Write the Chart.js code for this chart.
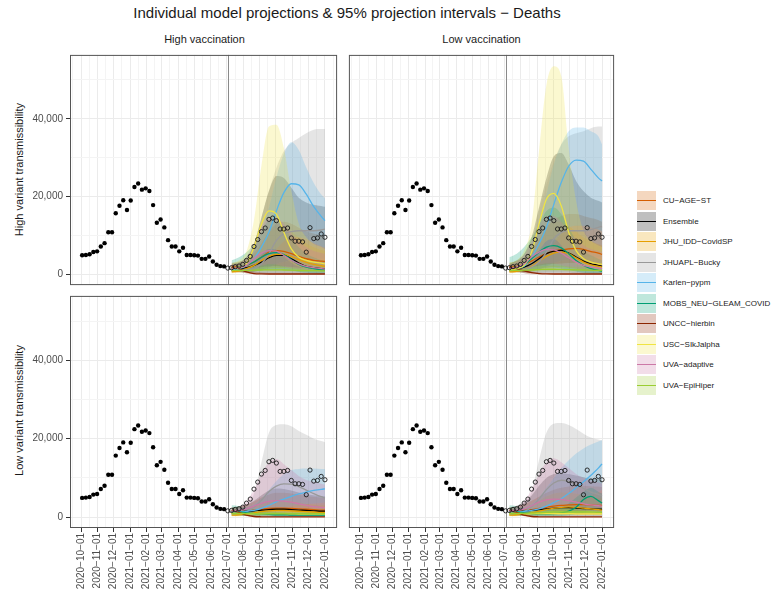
<!DOCTYPE html>
<html>
<head>
<meta charset="utf-8">
<script src="https://cdn.jsdelivr.net/npm/chart.js@4.4.1/dist/chart.umd.min.js"></script>
<style>
  body { margin: 0; background: #fff; font-family: "Liberation Sans", Arial, sans-serif; }
  #wrap { position: relative; width: 772px; height: 601px; overflow: hidden; }
  canvas { position: absolute; }
  .txt { position: absolute; white-space: nowrap; color: #1a1a1a; }
  .key { position: absolute; width: 19px; height: 19px; }
  .key i { position: absolute; left: 0; right: 0; top: 9px; height: 1.4px; }
</style>
</head>
<body>
<div id="wrap">
  <div class="txt" style="left:0;width:694px;top:5px;font-size:15px;line-height:15px;text-align:center">Individual model projections &amp; 95% projection intervals &#8722; Deaths</div>
  <div class="txt" style="left:70px;width:269px;top:34px;font-size:11px;line-height:11px;text-align:center">High vaccination</div>
  <div class="txt" style="left:347px;width:269px;top:34px;font-size:11px;line-height:11px;text-align:center">Low vaccination</div>
  <div class="txt" style="left:-98px;width:234px;top:164px;height:11px;font-size:11px;line-height:11px;text-align:center;transform:rotate(-90deg)">High variant transmissibility</div>
  <div class="txt" style="left:-98px;width:234px;top:405px;height:11px;font-size:11px;line-height:11px;text-align:center;transform:rotate(-90deg)">Low variant transmissibility</div>
  <canvas id="c-tl" width="342" height="240" style="left:0;top:50px"></canvas>
  <canvas id="c-tr" width="275" height="240" style="left:344px;top:50px"></canvas>
  <canvas id="c-bl" width="342" height="310" style="left:0;top:291px"></canvas>
  <canvas id="c-br" width="275" height="310" style="left:344px;top:291px"></canvas>
  <div id="legend"></div>
</div>
<script>
// ---- data -------------------------------------------------------------
const MODELS = ['CU-AGE-ST', 'Ensemble', 'JHU_IDD-CovidSP', 'JHUAPL-Bucky', 'Karlen-pypm',
  'MOBS_NEU-GLEAM_COVID', 'UNCC-hierbin', 'USC-SIkJalpha', 'UVA-adaptive', 'UVA-EpiHiper'];
const MODEL_COLORS = ['#D55E00', '#000000', '#E69F00', '#999999', '#56B4E9',
  '#009E73', '#8B2500', '#F0E442', '#CC79A7', '#9ACD32'];

const X_TICKS = ['2020-10-01', '2020-11-01', '2020-12-01', '2021-01-01', '2021-02-01', '2021-03-01',
  '2021-04-01', '2021-05-01', '2021-06-01', '2021-07-01', '2021-08-01', '2021-09-01',
  '2021-10-01', '2021-11-01', '2021-12-01', '2022-01-01'];
const Y_TICKS = [0, 20000, 40000];
const Y_MINOR = [10000, 30000, 50000];
const Y_MIN = -2780, Y_MAX = 56450;

// weekly observed deaths, from OBS_START; points on/after SPLIT_DATE drawn hollow
const OBS_START = '2020-10-03';
const SPLIT_DATE = '2021-07-03';
const OBS_DEATHS = [4900, 4980, 5150, 5740, 5910, 7170, 8020, 10800, 10800, 15700, 17640, 19070, 16540,
  18990, 22450, 23380, 21780, 22110, 21440, 17810, 13250, 14100, 12070, 8780, 7170, 7170, 5910, 6840,
  4980, 4980, 4900, 4810, 3970, 3970, 4560, 3290, 2450, 2110, 2030,
  1600, 1700, 1960, 2130, 2550, 3570, 4600, 7150, 8940, 10980, 11910, 14130, 14470, 13790, 11660,
  11660, 11910, 9360, 8510, 8510, 8340, 5700, 12000, 9190, 9360, 10380, 9530];

const PROJ_DATES = ['2021-07-10', '2021-07-24', '2021-08-07', '2021-08-21', '2021-09-04', '2021-09-18',
  '2021-10-02', '2021-10-16', '2021-10-30', '2021-11-13', '2021-11-27', '2021-12-11', '2021-12-25', '2022-01-01'];

// rows follow MODELS order
// High vaccination / high variant
const HH_MED = [
  [1900, 1900, 2300, 3150, 4400, 5700, 6100, 5900, 5300, 4600, 4000, 3600, 3400, 3300],
  [1450, 1450, 1700, 2300, 3150, 4250, 4850, 4850, 4000, 2900, 2050, 1700, 1450, 1350],
  [600, 850, 1450, 2300, 3550, 4600, 5100, 5100, 4600, 3750, 3050, 2550, 2200, 2050],
  [1000, 1000, 1200, 1450, 2700, 5300, 8700, 10500, 11000, 11200, 11200, 11200, 11400, 11600],
  [1200, 1450, 2300, 4000, 7000, 10800, 16300, 21000, 23300, 23000, 20600, 17400, 14900, 13800],
  [1700, 1850, 2300, 3150, 4400, 5300, 5600, 5100, 3750, 2550, 1850, 1450, 1200, 1100],
  [1850, 1450, 600, 170, 90, 80, 80, 80, 80, 80, 80, 80, 80, 80],
  [1450, 1700, 2700, 7000, 12900, 16300, 15500, 10800, 6550, 4400, 3600, 3150, 2900, 2700],
  [1450, 1700, 2300, 4000, 5450, 6100, 5950, 4850, 3600, 2700, 2050, 1700, 1450, 1350],
  [1000, 1000, 1000, 1050, 1100, 1150, 1150, 1100, 1050, 1000, 950, 950, 900, 900]];
const HH_LO = [
  [1200, 1200, 1300, 1500, 1800, 2000, 2100, 2000, 1900, 1700, 1600, 1500, 1400, 1400],
  [600, 500, 400, 300, 300, 300, 300, 300, 300, 200, 200, 200, 200, 200],
  [300, 400, 600, 900, 1200, 1500, 1600, 1600, 1400, 1200, 1000, 900, 800, 800],
  [600, 600, 600, 800, 1200, 1800, 2600, 3200, 3600, 3800, 3900, 4000, 4000, 4000],
  [600, 800, 1100, 1800, 3000, 4500, 6500, 8500, 9500, 9500, 9000, 8000, 7200, 6800],
  [800, 700, 700, 800, 1000, 1200, 1300, 1200, 900, 600, 400, 300, 200, 200],
  [1300, 800, 200, 0, 0, 0, 0, 0, 0, 0, 0, 0, 0, 0],
  [1000, 1200, 1600, 3000, 5000, 6500, 6300, 4500, 3000, 2000, 1600, 1300, 1200, 1100],
  [1000, 1100, 1300, 1800, 2300, 2600, 2500, 2100, 1600, 1300, 1100, 1000, 900, 900],
  [600, 600, 600, 650, 700, 700, 700, 700, 650, 600, 600, 550, 550, 550]];
const HH_HI = [
  [3000, 3300, 4000, 5500, 8000, 11000, 13000, 13500, 13000, 12000, 11000, 10500, 10000, 9800],
  [2700, 3100, 4400, 7800, 14600, 21400, 25300, 24800, 22300, 19700, 18500, 17900, 17600, 17400],
  [1500, 2000, 3000, 5000, 8000, 10500, 12000, 12000, 11000, 9500, 8000, 7000, 6300, 6000],
  [1900, 2300, 3600, 7800, 14600, 21400, 27400, 31700, 33800, 35100, 36300, 37200, 37400, 37400],
  [2000, 2300, 3000, 6000, 11000, 17200, 25000, 31000, 34000, 32000, 27500, 23500, 20500, 19500],
  [3600, 4400, 5700, 7800, 11200, 13800, 13800, 12100, 9500, 7000, 5300, 4400, 3700, 3600],
  [2500, 2300, 1500, 800, 500, 400, 400, 400, 400, 400, 400, 400, 400, 400],
  [2700, 3600, 6000, 14000, 28000, 38000, 38500, 32500, 21400, 13000, 9500, 7800, 7000, 6500],
  [2500, 3000, 4500, 8000, 12000, 14500, 14500, 13000, 10500, 8500, 7000, 6000, 5500, 5300],
  [1500, 1500, 1600, 1700, 1900, 2000, 2000, 1900, 1800, 1700, 1600, 1500, 1500, 1500]];

// Low vaccination / high variant
const LH_MED = [
  [1850, 2050, 2550, 3400, 4450, 5300, 5950, 6300, 6550, 6650, 6400, 5850, 5450, 5100],
  [1450, 1450, 1850, 2700, 4000, 5300, 5950, 6150, 5450, 4450, 3400, 2700, 2300, 2050],
  [600, 750, 1200, 2050, 3400, 4600, 5450, 5700, 5300, 4250, 3150, 2450, 2050, 1850],
  [1000, 1000, 1200, 1850, 3150, 5700, 9100, 10800, 11200, 11200, 11200, 11500, 12100, 12300],
  [1200, 1450, 2050, 4450, 7800, 12100, 18000, 23600, 27800, 29400, 29100, 27000, 24800, 24000],
  [1700, 1850, 2550, 4000, 5700, 7000, 7400, 6800, 5300, 3550, 2300, 1450, 1000, 850],
  [1850, 1450, 850, 430, 170, 90, 80, 80, 80, 80, 80, 80, 80, 80],
  [1000, 1450, 2300, 5700, 12900, 19300, 20800, 17600, 10800, 6100, 4000, 3150, 2700, 2550],
  [1450, 1850, 2700, 4450, 5700, 6400, 6300, 5450, 4250, 3150, 2300, 1850, 1600, 1450],
  [1000, 1000, 1050, 1100, 1200, 1300, 1300, 1250, 1200, 1150, 1100, 1050, 1000, 1000]];
const LH_LO = [
  [1200, 1300, 1500, 1800, 2200, 2500, 2700, 2800, 2900, 2900, 2800, 2700, 2600, 2500],
  [600, 500, 400, 400, 400, 400, 400, 400, 400, 300, 300, 300, 300, 300],
  [300, 400, 600, 900, 1300, 1700, 1900, 1900, 1700, 1400, 1100, 1000, 900, 900],
  [600, 600, 600, 800, 1300, 2000, 2900, 3500, 3900, 4100, 4200, 4300, 4400, 4400],
  [600, 800, 1100, 2000, 3500, 5500, 8000, 10500, 12000, 12500, 12500, 12000, 11500, 11000],
  [800, 700, 800, 1000, 1300, 1600, 1700, 1500, 1100, 700, 400, 300, 200, 200],
  [1300, 800, 300, 0, 0, 0, 0, 0, 0, 0, 0, 0, 0, 0],
  [700, 1000, 1500, 3000, 6000, 8500, 9000, 7500, 4500, 2800, 2000, 1600, 1400, 1300],
  [1000, 1200, 1500, 2000, 2500, 2800, 2800, 2400, 1900, 1500, 1200, 1000, 900, 900],
  [600, 600, 650, 700, 750, 800, 800, 800, 750, 700, 700, 650, 600, 600]];
const LH_HI = [
  [3000, 3400, 4300, 6000, 9000, 12000, 14000, 15000, 15500, 15500, 15000, 14500, 14000, 13500],
  [2700, 3600, 5300, 9500, 17200, 24800, 30400, 31200, 28300, 24000, 21400, 19700, 18900, 18500],
  [1500, 2000, 3200, 5500, 9000, 12000, 13500, 13500, 12500, 11000, 9500, 8500, 7800, 7500],
  [1900, 2300, 3600, 7800, 16300, 23100, 29100, 33400, 35500, 36300, 36800, 37600, 38000, 38000],
  [2000, 2300, 3200, 7000, 13000, 20600, 28300, 33400, 36800, 37800, 37800, 36800, 35500, 33400],
  [4400, 5300, 7000, 9500, 12900, 16300, 17200, 15500, 12100, 8700, 6100, 4900, 4000, 3600],
  [2500, 2300, 1500, 800, 500, 400, 400, 400, 400, 400, 400, 400, 400, 400],
  [3000, 3600, 6100, 12900, 31700, 48700, 53500, 51000, 32500, 18900, 11200, 8700, 7400, 7000],
  [2500, 3200, 5000, 8500, 12500, 15000, 15000, 13500, 11000, 9000, 7500, 6500, 6000, 5800],
  [1500, 1500, 1700, 1900, 2100, 2200, 2200, 2100, 2000, 1900, 1800, 1700, 1600, 1600]];

// High vaccination / low variant
const HL_MED = [
  [1500, 1500, 1600, 1800, 2000, 2200, 2300, 2300, 2200, 2100, 2000, 1900, 1800, 1800],
  [1400, 1400, 1500, 1600, 1800, 1900, 2000, 2000, 1900, 1800, 1700, 1600, 1500, 1500],
  [500, 600, 800, 1100, 1400, 1600, 1700, 1700, 1600, 1500, 1400, 1300, 1200, 1200],
  [900, 1000, 1400, 2500, 4300, 6500, 7900, 8500, 8400, 7800, 6900, 6000, 5200, 4900],
  [1300, 1400, 1500, 1700, 2200, 3000, 3900, 4600, 5300, 5900, 6400, 6800, 7100, 7200],
  [1400, 1300, 1100, 900, 800, 700, 600, 600, 500, 500, 500, 500, 500, 500],
  [1700, 1200, 500, 150, 80, 60, 50, 50, 50, 50, 50, 50, 50, 50],
  [1000, 950, 900, 900, 900, 900, 900, 900, 900, 850, 850, 800, 800, 800],
  [1500, 1700, 2100, 2800, 3500, 4000, 4200, 4100, 3800, 3400, 3000, 2700, 2500, 2400],
  [900, 900, 900, 900, 900, 900, 900, 900, 900, 900, 900, 900, 900, 900]];
const HL_LO = [
  [800, 800, 850, 900, 1000, 1100, 1100, 1100, 1100, 1000, 1000, 900, 900, 900],
  [500, 400, 300, 300, 300, 300, 300, 300, 300, 300, 300, 300, 300, 300],
  [200, 250, 300, 400, 500, 600, 650, 650, 600, 550, 500, 500, 450, 450],
  [400, 400, 500, 700, 1000, 1400, 1800, 2000, 2000, 1900, 1800, 1700, 1600, 1500],
  [800, 800, 900, 1000, 1200, 1600, 2000, 2400, 2800, 3100, 3300, 3500, 3600, 3700],
  [600, 500, 400, 300, 200, 200, 100, 100, 100, 100, 100, 100, 100, 100],
  [1200, 700, 200, 0, 0, 0, 0, 0, 0, 0, 0, 0, 0, 0],
  [600, 550, 500, 500, 500, 500, 500, 500, 500, 500, 450, 450, 450, 450],
  [1000, 1100, 1300, 1600, 2000, 2200, 2300, 2200, 2000, 1800, 1600, 1500, 1400, 1300],
  [500, 500, 500, 500, 500, 500, 500, 500, 500, 500, 500, 500, 500, 500]];
const HL_HI = [
  [2500, 2700, 3200, 4000, 5000, 5800, 6200, 6200, 6000, 5700, 5400, 5200, 5000, 4900],
  [2500, 2700, 3200, 4200, 5600, 6800, 7300, 7200, 6800, 6300, 5900, 5600, 5400, 5300],
  [1000, 1300, 1900, 2700, 3500, 4000, 4200, 4200, 4000, 3700, 3400, 3200, 3000, 3000],
  [1500, 1800, 3000, 6000, 14000, 21500, 23500, 23700, 23200, 22000, 21000, 20000, 19400, 19100],
  [1800, 2000, 2400, 3200, 4800, 7000, 9200, 11000, 12000, 12300, 12400, 12400, 12300, 12300],
  [3000, 2800, 2400, 2000, 1700, 1500, 1300, 1200, 1100, 1000, 1000, 1000, 1000, 1000],
  [2300, 1800, 900, 400, 300, 300, 300, 300, 300, 300, 300, 300, 300, 300],
  [1500, 1500, 1500, 1500, 1600, 1600, 1600, 1600, 1600, 1500, 1500, 1500, 1400, 1400],
  [1800, 2500, 4000, 7000, 11000, 14000, 14800, 13500, 12000, 10500, 9500, 9000, 8500, 8300],
  [1400, 1400, 1400, 1400, 1400, 1400, 1400, 1400, 1400, 1400, 1400, 1400, 1400, 1400]];

// Low vaccination / low variant
const LL_MED = [
  [1500, 1600, 1700, 1900, 2200, 2500, 2800, 3000, 3100, 3200, 3200, 3100, 3000, 3000],
  [1400, 1400, 1500, 1700, 1900, 2100, 2300, 2400, 2400, 2300, 2200, 2100, 2000, 2000],
  [500, 600, 800, 1100, 1500, 1900, 2300, 2500, 2600, 2500, 2300, 2100, 1900, 1800],
  [900, 1000, 1400, 2600, 4600, 7000, 8700, 9400, 9100, 8300, 7300, 6400, 5800, 5500],
  [1300, 1400, 1500, 1700, 2100, 2800, 3700, 4700, 6000, 7500, 9000, 10700, 12500, 13600],
  [1400, 1300, 1100, 900, 800, 800, 900, 1100, 1500, 2500, 4500, 5300, 4200, 3600],
  [1700, 1200, 500, 150, 80, 60, 50, 50, 50, 50, 50, 50, 50, 50],
  [1000, 950, 900, 900, 900, 900, 900, 900, 900, 850, 850, 800, 800, 800],
  [1500, 1700, 2100, 2900, 3800, 4400, 4600, 4500, 4200, 3800, 3400, 3100, 2900, 2800],
  [900, 900, 950, 1000, 1100, 1200, 1300, 1300, 1300, 1300, 1300, 1300, 1200, 1200]];
const LL_LO = [
  [800, 850, 900, 1000, 1100, 1300, 1400, 1500, 1500, 1500, 1500, 1500, 1400, 1400],
  [500, 400, 300, 300, 300, 300, 300, 300, 300, 300, 300, 300, 300, 300],
  [200, 250, 300, 400, 600, 700, 800, 900, 900, 900, 800, 800, 700, 700],
  [400, 400, 500, 700, 1000, 1400, 1800, 2000, 2000, 1900, 1800, 1700, 1600, 1500],
  [800, 800, 900, 1000, 1200, 1500, 2000, 2600, 3200, 4000, 4800, 5600, 6400, 7000],
  [600, 500, 400, 300, 200, 200, 200, 300, 500, 800, 1200, 1500, 1300, 1100],
  [1200, 700, 200, 0, 0, 0, 0, 0, 0, 0, 0, 0, 0, 0],
  [600, 550, 500, 500, 500, 500, 500, 500, 500, 500, 450, 450, 450, 450],
  [1000, 1100, 1300, 1600, 2000, 2300, 2400, 2300, 2100, 1900, 1700, 1600, 1500, 1400],
  [500, 500, 550, 600, 650, 700, 750, 750, 750, 750, 750, 700, 700, 700]];
const LL_HI = [
  [2500, 2800, 3300, 4200, 5200, 6200, 7000, 7500, 7800, 8000, 8000, 7900, 7800, 7700],
  [2500, 2900, 3800, 5500, 8000, 10000, 11000, 11200, 11000, 10600, 10200, 9900, 9700, 9600],
  [1000, 1300, 2000, 3000, 4200, 5300, 6000, 6300, 6300, 6000, 5600, 5200, 4900, 4800],
  [1500, 1800, 3000, 6500, 14500, 21500, 23800, 24000, 23500, 22500, 21300, 20300, 19800, 19600],
  [1800, 2000, 2500, 3300, 5000, 7500, 10000, 12500, 14500, 16200, 17500, 18500, 19300, 19600],
  [3000, 2800, 2400, 2000, 1800, 1800, 2000, 2500, 3500, 5000, 6500, 7500, 6500, 6000],
  [2300, 1800, 900, 400, 300, 300, 300, 300, 300, 300, 300, 300, 300, 300],
  [1500, 1500, 1500, 1500, 1600, 1600, 1600, 1600, 1600, 1500, 1500, 1500, 1400, 1400],
  [1800, 2500, 4000, 7000, 11000, 14000, 15000, 14000, 12500, 11000, 10000, 9300, 8800, 8500],
  [1400, 1400, 1500, 1600, 1800, 2000, 2200, 2300, 2300, 2300, 2300, 2200, 2200, 2200]];

// ---- helpers ------------------------------------------------------------
const DAY_MS = 86400000;
const BASE = Date.UTC(2020, 9, 1);
const toDay = s => (Date.parse(s + 'T00:00:00Z') - BASE) / DAY_MS;
const fmtDay = d => new Date(BASE + d * DAY_MS).toISOString().slice(0, 10).replace(/-/g, '\u2212');
const show = s => s.replace(/-/g, '\u2212');

function rgba(hex, a) {
  const n = parseInt(hex.slice(1), 16);
  return `rgba(${n >> 16},${(n >> 8) & 255},${n & 255},${a})`;
}

const projX = PROJ_DATES.map(toDay);
const obsX = OBS_DEATHS.map((_, i) => toDay(OBS_START) + 7 * i);
const splitX = toDay(SPLIT_DATE);

// ggplot-like 5% expansion of the date range
const span = obsX[obsX.length - 1] - obsX[0];
const X_MIN = obsX[0] - 0.05 * span;
const X_MAX = obsX[obsX.length - 1] + 0.05 * span;

const xMajor = X_TICKS.map(toDay);
const xMinor = [];
for (let i = 0; i < xMajor.length - 1; i++) xMinor.push((xMajor[i] + xMajor[i + 1]) / 2);
xMinor.unshift(xMajor[0] - (xMajor[1] - xMajor[0]) / 2);
xMinor.push(xMajor[xMajor.length - 1] + (xMajor[xMajor.length - 1] - xMajor[xMajor.length - 2]) / 2);
const xTicks = xMajor.map(v => ({ value: v, major: true }))
  .concat(xMinor.map(v => ({ value: v, major: false })))
  .sort((a, b) => a.value - b.value);
const yTicks = Y_TICKS.map(v => ({ value: v, major: true }))
  .concat(Y_MINOR.map(v => ({ value: v, major: false })))
  .sort((a, b) => a.value - b.value);

Chart.defaults.font.family = '"Liberation Sans", Arial, sans-serif';

const panelPlugin = {
  id: 'panel',
  beforeDatasetsDraw(chart) {
    const { ctx, chartArea: a, scales: { x } } = chart;
    const px = Math.round(x.getPixelForValue(splitX)) + 0.5;
    ctx.save();
    ctx.strokeStyle = '#8a8a8a';
    ctx.lineWidth = 1;
    ctx.beginPath();
    ctx.moveTo(px, a.top);
    ctx.lineTo(px, a.bottom);
    ctx.stroke();
    ctx.restore();
  },
  afterDraw(chart) {
    const { ctx, chartArea: a } = chart;
    ctx.save();
    ctx.strokeStyle = '#555555';
    ctx.lineWidth = 1;
    ctx.strokeRect(a.left + 0.5, a.top + 0.5, a.width - 1, a.height - 1);
    ctx.restore();
  }
};

function buildDatasets(med, lo, hi) {
  const sets = [];
  MODELS.forEach((m, i) => {
    sets.push({
      data: projX.map((x, j) => ({ x, y: hi[i][j] })),
      borderColor: 'rgba(0,0,0,0)', borderWidth: 0, pointRadius: 0,
      fill: '+1', backgroundColor: rgba(MODEL_COLORS[i], 0.25),
      cubicInterpolationMode: 'monotone', order: 100 - i
    });
    sets.push({
      data: projX.map((x, j) => ({ x, y: lo[i][j] })),
      borderColor: 'rgba(0,0,0,0)', borderWidth: 0, pointRadius: 0,
      fill: false, cubicInterpolationMode: 'monotone', order: 100 - i
    });
  });
  MODELS.forEach((m, i) => {
    sets.push({
      data: projX.map((x, j) => ({ x, y: med[i][j] })),
      borderColor: MODEL_COLORS[i], borderWidth: 1.3, pointRadius: 0,
      fill: false, cubicInterpolationMode: 'monotone', order: 50 - i
    });
  });
  const filled = [], hollow = [];
  OBS_DEATHS.forEach((y, i) => (obsX[i] < splitX ? filled : hollow).push({ x: obsX[i], y }));
  sets.push({ data: filled, showLine: false, pointRadius: 2.2, pointBackgroundColor: '#000',
    pointBorderWidth: 0, order: 1 });
  sets.push({ data: hollow, showLine: false, pointRadius: 2.1, pointBackgroundColor: 'rgba(0,0,0,0)',
    pointBorderColor: '#1a1a1a', pointBorderWidth: 0.9, order: 0 });
  return sets;
}

function drawPanel(id, med, lo, hi, left, bottom) {
  new Chart(document.getElementById(id).getContext('2d'), {
    type: 'line',
    data: { datasets: buildDatasets(med, lo, hi) },
    plugins: [panelPlugin],
    options: {
      responsive: false,
      animation: false,
      layout: { padding: { top: 3, right: 3, left: 0, bottom: 0 } },
      plugins: { legend: { display: false }, tooltip: { enabled: false } },
      scales: {
        x: {
          type: 'linear', min: X_MIN, max: X_MAX,
          afterBuildTicks: s => { s.ticks = xTicks.map(t => ({ value: t.value })); },
          afterFit: s => { s.height = bottom ? 73 : 3; s.paddingLeft = 0; s.paddingRight = 0; },
          border: { display: false },
          grid: {
            color: c => (xMajor.includes(c.tick.value) ? '#EBEBEB' : '#F4F4F4'),
            tickColor: c => (xMajor.includes(c.tick.value) ? '#333333' : 'rgba(0,0,0,0)'),
            drawTicks: bottom, tickLength: 4, lineWidth: 1
          },
          ticks: {
            display: bottom, autoSkip: false, minRotation: 90, maxRotation: 90, padding: 1,
            color: '#4D4D4D', font: { size: 10 },
            callback: v => (xMajor.includes(v) ? fmtDay(v) : '')
          }
        },
        y: {
          type: 'linear', min: Y_MIN, max: Y_MAX,
          afterBuildTicks: s => { s.ticks = yTicks.map(t => ({ value: t.value })); },
          afterFit: s => { s.width = left ? 70 : 3; s.paddingTop = 0; s.paddingBottom = 0; },
          border: { display: false },
          grid: {
            color: c => (Y_TICKS.includes(c.tick.value) ? '#EBEBEB' : '#F4F4F4'),
            tickColor: c => (Y_TICKS.includes(c.tick.value) ? '#333333' : 'rgba(0,0,0,0)'),
            drawTicks: left, tickLength: 4, lineWidth: 1
          },
          ticks: {
            display: left, padding: 3, color: '#4D4D4D', font: { size: 10 },
            callback: v => (Y_TICKS.includes(v) ? v.toLocaleString('en-US') : '')
          }
        }
      }
    }
  });
}

drawPanel('c-tl', HH_MED, HH_LO, HH_HI, true, false);
drawPanel('c-tr', LH_MED, LH_LO, LH_HI, false, false);
drawPanel('c-bl', HL_MED, HL_LO, HL_HI, true, true);
drawPanel('c-br', LL_MED, LL_LO, LL_HI, false, true);

// legend
const legend = document.getElementById('legend');
MODELS.forEach((m, i) => {
  const top = 191 + i * 20.5;
  const key = document.createElement('div');
  key.className = 'key';
  key.style.left = '637px';
  key.style.top = top + 'px';
  key.style.background = rgba(MODEL_COLORS[i], 0.25);
  const line = document.createElement('i');
  line.style.background = MODEL_COLORS[i];
  key.appendChild(line);
  legend.appendChild(key);
  const lab = document.createElement('div');
  lab.className = 'txt';
  lab.style.cssText = `left:663px;top:${top + 5}px;font-size:8px;line-height:9px`;
  lab.textContent = show(m);
  legend.appendChild(lab);
});
</script>
</body>
</html>
